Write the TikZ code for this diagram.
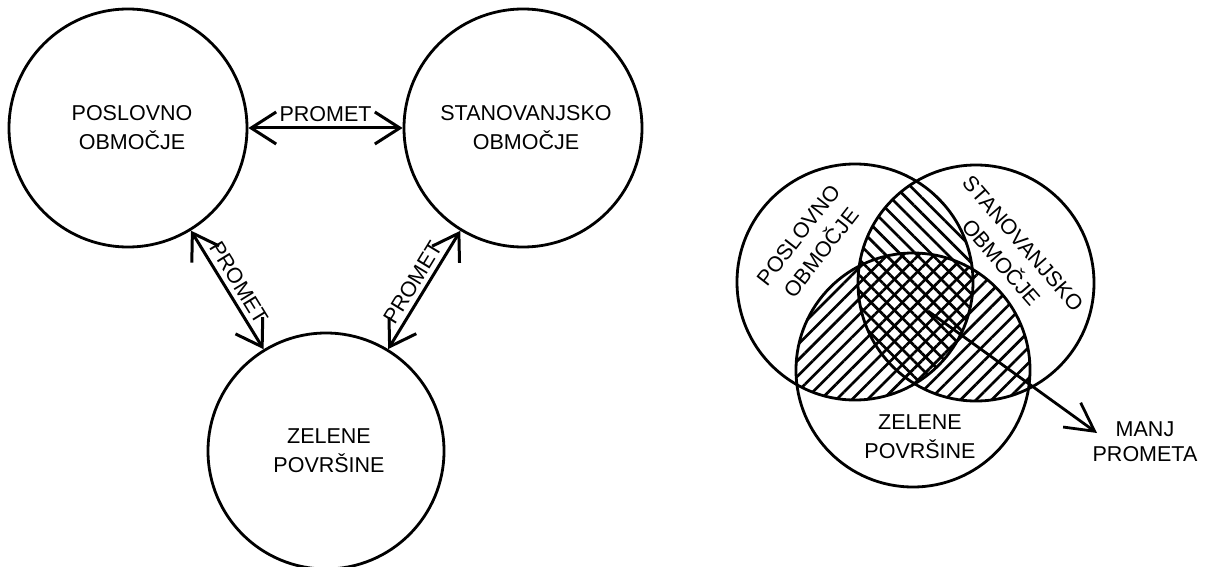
\documentclass[tikz,border=0pt]{standalone}
\usepackage{fontspec}
\setmainfont{Liberation Sans}
\usetikzlibrary{arrows.meta,patterns.meta}
\begin{document}
\begin{tikzpicture}[x=1pt,y=-1pt,
  lbl/.style={font=\fontsize{21.5}{29}\selectfont},
  zone/.style={circle,draw,line width=2.8pt,minimum size=238pt,inner sep=0pt,align=center,lbl},
  barb/.tip={Straight Barb[length=25pt,width=32pt]},
  link/.style={line width=3pt,barb-barb},
  linklabel/.style={midway,above,sloped,inner sep=6pt,outer sep=0pt,lbl},
  ring/.style={line width=2.8pt},
  txt/.style={align=center,inner sep=0pt,lbl},
  hatchA/.style={pattern={Lines[angle=-45,distance=11pt,line width=2.7pt]}},
  hatchB/.style={pattern={Lines[angle=45,distance=11pt,line width=2.7pt]}}
]
\useasboundingbox (0,0) rectangle (1205,567);
% left diagram
\node[zone] (A) at (128,128) {\hspace*{8pt}POSLOVNO\\\hspace*{8pt}OBMOČJE};
\node[zone] (B) at (523,128) {\hspace*{6pt}STANOVANJSKO\\\hspace*{6pt}OBMOČJE};
\node[zone,minimum size=236pt] (C) at (326,451) {\hspace*{6pt}ZELENE\\\hspace*{6pt}POVRŠINE};
\draw[link] (A) -- (B) node[linklabel] {PROMET};
\draw[link] (A) -- (C) node[linklabel] {PROMET};
\draw[link] (C) -- (B) node[linklabel] {PROMET};
% right diagram
\coordinate (P) at (855,282);
\coordinate (S) at (976,283);
\coordinate (Z) at (913,370);
\begin{scope}
  \clip (P) circle[radius=118];
  \fill[hatchA] (S) circle[radius=118];
\end{scope}
\begin{scope}
  \clip (Z) circle[radius=117];
  \fill[hatchB] (P) circle[radius=118] (S) circle[radius=118];
\end{scope}
\draw[ring] (P) circle[radius=118];
\draw[ring] (S) circle[radius=118];
\draw[ring] (Z) circle[radius=117];
\node[txt,rotate=52] (Pl) at (810,244) {POSLOVNO\\OBMOČJE};
\node[txt,rotate=-49] (Sl) at (1012,253) {STANOVANJSKO\\OBMOČJE};
\node[txt] (Zl) at (920,437) {ZELENE\\POVRŠINE};
\node[txt,font=\fontsize{21.5}{25}\selectfont] (M) at (1145,442) {MANJ\\PROMETA};
\coordinate (O) at (928,311);
\coordinate (T) at (1097,433);
\draw[line width=2.8pt,-{Straight Barb[length=28pt,width=30pt]}] (O) -- (T);
\end{tikzpicture}
\end{document}
